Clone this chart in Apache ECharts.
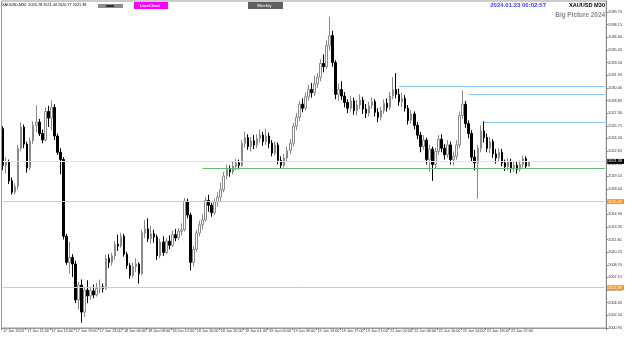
<!DOCTYPE html>
<html>
<head>
<meta charset="utf-8">
<script src="https://cdn.jsdelivr.net/npm/echarts@6/dist/echarts.min.js"></script>
<style>
  html, body { margin: 0; padding: 0; background: #fff; }
  #main { width: 625px; height: 337px; }
</style>
</head>
<body>
<div id="main"></div>
<script>
// XAUUSD M30 candles, 17 Jan 07:00 -> 23 Jan
const opens = [2025.4,2020.9,2021.3,2019.0,2017.6,2018.3,2023.0,2025.6,2023.5,2020.6,2023.9,2025.8,2026.2,2024.8,2024.0,2027.5,2026.7,2028.0,2024.5,2022.5,
  2021.6,2012.2,2009.0,2009.6,2008.8,2004.4,2006.2,2002.9,2005.6,2004.9,2005.5,2005.0,2005.8,2006.0,2005.8,2009.5,2009.0,2009.8,2011.2,2011.0,
  2012.2,2010.0,2008.6,2007.4,2008.5,2008.8,2007.6,2012.6,2013.1,2011.9,2012.5,2012.1,2009.8,2011.5,2010.2,2011.6,2011.1,2012.4,2012.0,2012.8,
  2013.0,2016.5,2014.8,2009.0,2010.6,2012.6,2013.6,2014.2,2016.6,2016.0,2015.1,2016.4,2017.0,2017.9,2019.6,2020.4,2020.1,2020.8,2021.2,2020.9,
  2023.6,2024.3,2023.2,2023.9,2023.4,2024.2,2024.6,2023.8,2024.5,2023.6,2022.4,2023.4,2021.5,2020.9,2021.8,2022.7,2023.6,2025.7,2026.8,2028.4,
  2027.9,2029.3,2030.2,2029.8,2030.9,2031.7,2033.4,2033.0,2035.6,2036.8,2033.5,2029.6,2030.2,2029.4,2028.6,2027.9,2028.8,2027.6,2028.3,2028.9,
  2027.8,2027.3,2028.2,2028.7,2027.4,2026.8,2027.6,2028.5,2028.0,2029.4,2030.2,2029.6,2028.7,2029.1,2027.9,2026.4,2027.2,2025.8,2024.6,2023.2,
  2024.0,2021.6,2022.9,2021.0,2022.6,2024.1,2023.0,2022.2,2023.4,2021.6,2022.0,2023.4,2027.0,2028.4,2026.0,2024.8,2021.9,2021.2,2023.0,2025.1,
  2024.3,2023.0,2023.8,2022.3,2021.8,2022.5,2021.2,2020.7,2021.3,2020.6,2020.9,2020.4,2021.0,2021.7,2020.78];
const closes = [2020.9,2021.3,2019.0,2017.6,2018.3,2023.0,2025.6,2023.5,2020.6,2023.9,2025.8,2026.2,2024.8,2024.0,2027.5,2026.7,2028.0,2024.5,2022.5,2021.6,
  2012.2,2009.0,2009.6,2008.8,2004.4,2006.2,2002.9,2005.6,2004.9,2005.5,2005.0,2005.8,2006.0,2005.8,2009.5,2009.0,2009.8,2011.2,2011.0,2012.2,
  2010.0,2008.6,2007.4,2008.5,2008.8,2007.6,2012.6,2013.1,2011.9,2012.5,2012.1,2009.8,2011.5,2010.2,2011.6,2011.1,2012.4,2012.0,2012.8,2013.0,
  2016.5,2014.8,2009.0,2010.6,2012.6,2013.6,2014.2,2016.6,2016.0,2015.1,2016.4,2017.0,2017.9,2019.6,2020.4,2020.1,2020.8,2021.2,2020.9,2023.6,
  2024.3,2023.2,2023.9,2023.4,2024.2,2024.6,2023.8,2024.5,2023.6,2022.4,2023.4,2021.5,2020.9,2021.8,2022.7,2023.6,2025.7,2026.8,2028.4,2027.9,
  2029.3,2030.2,2029.8,2030.9,2031.7,2033.4,2033.0,2035.6,2036.8,2033.5,2029.6,2030.2,2029.4,2028.6,2027.9,2028.8,2027.6,2028.3,2028.9,2027.8,
  2027.3,2028.2,2028.7,2027.4,2026.8,2027.6,2028.5,2028.0,2029.4,2030.2,2029.6,2028.7,2029.1,2027.9,2026.4,2027.2,2025.8,2024.6,2023.2,2024.0,
  2021.6,2022.9,2021.0,2022.6,2024.1,2023.0,2022.2,2023.4,2021.6,2022.0,2023.4,2027.0,2028.4,2026.0,2024.8,2021.9,2021.2,2023.0,2025.1,2024.3,
  2023.0,2023.8,2022.3,2021.8,2022.5,2021.2,2020.7,2021.3,2020.6,2020.9,2020.4,2021.0,2021.7,2020.8,2021.38];
const lows = [2020.3,2019.9,2018.6,2017.3,2017.3,2017.9,2022.6,2023.0,2020.0,2020.3,2023.5,2025.0,2024.5,2023.6,2023.8,2025.6,2025.2,2024.0,2022.2,2019.8,
  2011.8,2008.7,2007.6,2007.2,2004.0,2003.2,2001.6,2002.3,2004.0,2004.4,2004.6,2004.8,2005.2,2005.3,2005.6,2008.3,2008.6,2009.3,2010.4,2010.8,
  2009.7,2008.2,2007.0,2007.1,2007.8,2006.4,2007.4,2012.0,2011.5,2011.3,2011.4,2009.3,2009.5,2009.8,2010.0,2010.6,2010.9,2011.6,2011.7,2012.3,
  2012.8,2014.4,2008.0,2008.5,2010.3,2012.2,2013.0,2014.0,2015.2,2014.6,2014.8,2015.8,2016.5,2017.6,2019.2,2019.5,2019.8,2020.3,2020.4,2020.7,
  2023.1,2022.8,2022.6,2022.9,2023.0,2023.7,2023.3,2023.4,2023.0,2022.0,2022.1,2021.0,2020.5,2020.6,2021.3,2022.3,2023.2,2025.2,2026.3,2027.4,
  2027.6,2028.8,2029.2,2029.4,2030.4,2031.2,2032.3,2032.7,2035.0,2033.0,2029.0,2028.8,2028.9,2028.0,2027.3,2027.5,2027.1,2027.0,2027.8,2027.2,
  2026.7,2026.9,2027.8,2026.9,2026.2,2026.4,2027.2,2027.5,2027.7,2029.0,2029.1,2028.2,2028.0,2027.5,2025.9,2026.0,2025.3,2024.1,2022.5,2022.8,
  2021.0,2020.1,2019.0,2020.5,2022.2,2022.5,2021.6,2021.8,2021.0,2020.9,2021.6,2023.0,2026.6,2025.5,2024.2,2021.3,2020.3,2016.8,2022.5,2023.7,
  2022.5,2022.4,2021.8,2021.1,2021.4,2020.8,2020.2,2020.3,2020.0,2020.1,2019.9,2020.1,2020.6,2020.5,2020.77];
const highs = [2025.7,2021.9,2021.6,2019.4,2018.7,2023.4,2026.2,2025.9,2023.8,2024.3,2026.3,2028.3,2026.6,2025.3,2028.0,2028.2,2028.9,2028.4,2024.8,2023.0,
  2021.9,2012.5,2011.5,2010.0,2009.2,2006.6,2006.9,2006.0,2006.8,2006.0,2006.3,2006.5,2006.9,2006.4,2009.9,2010.0,2010.2,2011.6,2012.4,2012.6,
  2012.5,2010.3,2008.9,2009.0,2009.5,2009.0,2013.0,2014.2,2014.4,2013.5,2013.0,2012.4,2011.9,2012.2,2012.0,2012.3,2012.9,2013.1,2013.2,2013.8,
  2016.9,2016.8,2015.1,2011.0,2013.0,2014.1,2014.9,2017.0,2017.3,2016.3,2016.8,2017.6,2018.8,2020.1,2021.0,2020.9,2021.4,2021.7,2021.6,2024.0,
  2025.0,2024.7,2024.4,2024.6,2024.7,2025.3,2025.0,2025.4,2024.9,2024.0,2023.8,2023.7,2022.0,2022.3,2023.2,2024.1,2026.1,2027.3,2028.8,2029.1,
  2029.8,2030.8,2031.0,2031.9,2032.2,2033.9,2034.5,2036.3,2039.1,2037.4,2033.8,2030.9,2031.2,2029.9,2029.0,2029.4,2029.2,2028.9,2029.6,2029.3,
  2028.4,2028.7,2029.2,2029.0,2027.9,2028.1,2029.0,2029.1,2029.9,2031.7,2032.2,2030.3,2029.8,2029.5,2028.3,2027.7,2027.5,2026.2,2025.0,2024.6,
  2024.3,2023.4,2023.2,2023.1,2024.6,2024.7,2023.5,2024.0,2023.8,2022.6,2024.0,2027.5,2030.1,2028.8,2026.4,2025.2,2022.8,2023.4,2025.8,2026.3,
  2024.8,2024.4,2024.1,2022.9,2023.0,2022.9,2021.6,2021.8,2021.7,2021.4,2021.3,2021.5,2022.1,2022.0,2021.44];

const xTickLabels = ['17 Jan 2024','17 Jan 11:00','17 Jan 15:00','17 Jan 19:00','17 Jan 23:00',
  '18 Jan 04:00','18 Jan 08:00','18 Jan 12:00','18 Jan 16:00','18 Jan 20:00',
  '19 Jan 01:00','19 Jan 05:00','19 Jan 09:00','19 Jan 13:00','19 Jan 17:00','19 Jan 21:00',
  '22 Jan 02:00','22 Jan 06:00','22 Jan 10:00','22 Jan 14:00','22 Jan 18:00','22 Jan 22:00'];

// levels drawn on the chart
const bidPrice = 2021.38;
const orangeLevels = [2016.45, 2005.89];
const greenLevel = 2020.57, greenFrom = 66;
const blueLevels = [2030.63, 2029.65, 2026.21];
const blueFrom = [131, 154, 159];

// category axis: M30 slots (01:00-23:30), plus empty room for chart shift
const dayNames = ['17 Jan', '18 Jan', '19 Jan', '22 Jan', '23 Jan'];
const totalSlots = 200;
const categories = [];
let d = 0, slot = 12;
while (categories.length < totalSlots) {
  const h = 1 + Math.floor(slot / 2);
  categories.push(dayNames[d] + ' ' + String(h).padStart(2, '0') + (slot % 2 ? ':30' : ':00'));
  slot++;
  if (slot >= 46) { slot = 0; d++; }
}
const lastIdx = totalSlots - 1;

const candles = opens.map((o, i) => [o, closes[i], lows[i], highs[i]]);

const FONT = 'Liberation Sans, Arial, sans-serif';

// level from a start bar to the last slot of the axis; name carries the price text
const span = (from, v) => [{ coord: [from, v], name: v.toFixed(2) }, { coord: [lastIdx, v] }];

// one empty line series per level colour, so every markLine gets its own style
const levelSeries = (color, data, badge) => ({
  type: 'line', data: [], silent: true,
  markLine: {
    symbol: 'none', silent: true, animation: false,
    lineStyle: { color: color, width: 1, type: 'solid', opacity: 1 },
    label: badge ? {
      show: true, position: 'end', distance: 2.5, formatter: '{b}',
      backgroundColor: badge, color: '#fff', fontSize: 3.8, fontFamily: FONT, padding: [1, 2, 0, 1]
    } : { show: false },
    emphasis: { disabled: true },
    data: data
  }
});

const chart = echarts.init(document.getElementById('main'));
chart.setOption({
  animation: false,
  backgroundColor: '#fff',
  grid: { left: 0, right: 18, top: 1, bottom: 9, show: true, borderColor: '#999', borderWidth: 1 },
  xAxis: {
    type: 'category',
    data: categories,
    boundaryGap: true,
    axisLine: { show: true, lineStyle: { color: '#999' } },
    axisTick: { show: true, length: 2, interval: (i) => i % 8 === 0 && i / 8 < xTickLabels.length, lineStyle: { color: '#777' } },
    axisLabel: {
      interval: (i) => i % 8 === 0 && i / 8 < xTickLabels.length,
      formatter: (v, i) => xTickLabels[i / 8] || '',
      align: 'left', fontSize: 3.8, fontFamily: FONT, color: '#333', margin: 1
    },
    splitLine: { show: false }
  },
  yAxis: {
    type: 'value', position: 'right',
    min: 2000.95, max: 2041.05, interval: 1.55,
    axisLine: { show: true, lineStyle: { color: '#888' } },
    axisTick: { show: true, length: 2, lineStyle: { color: '#888' } },
    axisLabel: { fontSize: 3.8, fontFamily: FONT, color: '#333', margin: 2, showMaxLabel: false, formatter: v => v.toFixed(2) },
    splitLine: { show: false }
  },
  series: [
    levelSeries('#e4e4e4', [span(0, bidPrice)], '#000'),
    levelSeries('#fbc37c', orangeLevels.map(v => span(0, v)), '#f7941d'),
    levelSeries('#66bb66', [span(greenFrom, greenLevel)], null),
    levelSeries('#8cc2f0', blueLevels.map((v, k) => span(blueFrom[k], v)), null),
    {
      type: 'candlestick',
      data: candles,
      barWidth: 2,
      itemStyle: { color: '#ffffff', color0: '#000000', borderColor: '#8a8a8a', borderColor0: '#000000', borderWidth: 1 }
    }
  ],
  graphic: [
    { type: 'text', left: 2, top: 3, style: { text: 'XAUUSD,M30  2020.78 2021.44 2020.77 2021.38', fill: '#000', font: '3.8px ' + FONT } },
    { type: 'rect', left: 98, top: 4, shape: { width: 25, height: 4 }, style: { fill: '#8c8c8c' } },
    { type: 'rect', left: 106, top: 5, shape: { width: 8, height: 2 }, style: { fill: '#333' } },
    { type: 'rect', left: 134, top: 2, shape: { width: 34, height: 7 }, style: { fill: '#ff00ff' } },
    { type: 'text', left: 140, top: 3.5, style: { text: 'LineChart', fill: '#fff', font: 'bold 4.3px ' + FONT } },
    { type: 'rect', left: 248, top: 2, shape: { width: 35, height: 7 }, style: { fill: '#5f5f5f' } },
    { type: 'text', left: 257, top: 3.5, style: { text: 'Weekly', fill: '#e0e0e0', font: 'bold 4.3px ' + FONT } },
    { type: 'text', right: 79, top: 2.5, style: { text: '2024.01.23 00:02:57', fill: '#3a3aff', font: 'bold 6px ' + FONT } },
    { type: 'text', right: 20, top: 2.8, style: { text: 'XAUUSD M30', fill: '#000', font: 'bold 5.6px ' + FONT } },
    { type: 'text', right: 20, top: 12, style: { text: 'Big Picture 2024', fill: '#8a8a8a', font: 'bold 6.4px ' + FONT } }
  ]
});
</script>
</body>
</html>
